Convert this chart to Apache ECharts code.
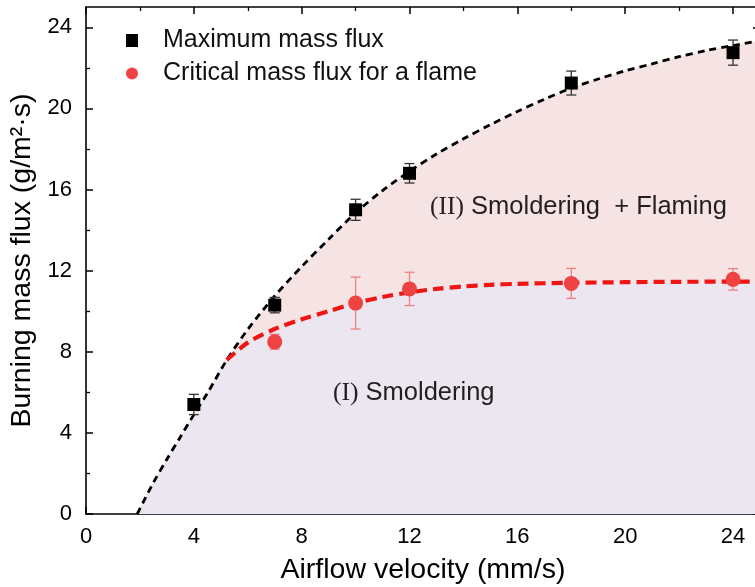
<!DOCTYPE html>
<html><head><meta charset="utf-8">
<script src="https://cdn.jsdelivr.net/npm/echarts@6/dist/echarts.min.js"></script>
<style>html,body{margin:0;padding:0;background:#fff}#c{width:755px;height:587px}</style>
</head><body><div id="c"></div>
<script>
// ---- data ----
const velocities   = [4, 7, 10, 12, 18, 24];
const maxFlux      = [5.4, 10.3, 15.0, 16.8, 21.25, 22.75];
const maxFluxErr   = [0.5, 0.38, 0.52, 0.48, 0.59, 0.62];
const critX        = [7, 10, 12, 18, 24];
const critFlux     = [8.49, 10.4, 11.1, 11.37, 11.57];
const critFluxErr  = [0.37, 1.28, 0.82, 0.74, 0.53];
// fitted curves
const maxFitX  = [1.9, 2.5, 3, 3.5, 4, 4.5, 5.22, 6, 7, 8, 9, 10, 11, 12, 13, 14, 15, 16, 17, 18, 19, 20, 21, 22, 23, 24, 25];
const maxFitY  = [0, 1.55, 2.7, 3.8, 4.9, 5.95, 7.59, 9.1, 10.75, 12.2, 13.55, 14.85, 15.95, 16.9, 17.75, 18.5, 19.2, 19.85, 20.45, 21.0, 21.45, 21.85, 22.2, 22.55, 22.85, 23.1, 23.35];
const critFitX = [5.22, 6, 7, 8, 9, 10, 11, 12, 13, 14, 15, 16, 18, 20, 22, 25];
const critFitY = [7.59, 8.45, 9.12, 9.6, 10.0, 10.4, 10.7, 10.93, 11.1, 11.22, 11.3, 11.35, 11.4, 11.43, 11.45, 11.46];
const xTicks = [0, 4, 8, 12, 16, 20, 24];
const xMinorTicks = [2, 6, 10, 14, 18, 22];
const yTicks = [0, 4, 8, 12, 16, 20, 24];
const yMinorTicks = [2, 6, 10, 14, 18, 22];
const xTitle = 'Airflow velocity (mm/s)';
const yTitle = 'Burning mass flux (g/m\u00B2\u00B7s)';
const legendNames = ['Maximum mass flux', 'Critical mass flux for a flame'];

// ---- build ----
const FONT = 'Arial, "Liberation Sans", sans-serif';
const SERIF = '"Times New Roman", "Liberation Serif", serif';
const zip = (a, b) => a.map((v, i) => [v, b[i]]);
const maxFit = zip(maxFitX, maxFitY);
const critFit = zip(critFitX, critFitY);
const lowerBoundary = maxFit.filter(p => p[0] < critFitX[0]).concat(critFit);

function majorAxis(pos, showLabel, labelVals, tickVals, margin) {
  return {
    type: 'value', position: pos, min: 0, max: 25,
    axisLine: { show: true, onZero: false, lineStyle: { color: '#000', width: 1.6 } },
    axisTick: { show: true, inside: true, length: 7, customValues: tickVals, lineStyle: { color: '#000', width: 1.5 } },
    axisLabel: { show: showLabel, customValues: labelVals, color: '#000', fontSize: 22, fontFamily: FONT, margin: margin },
    splitLine: { show: false }
  };
}
function minorAxis(pos, tickVals) {
  return {
    type: 'value', position: pos, min: 0, max: 25,
    axisLine: { show: false, onZero: false },
    axisTick: { show: true, inside: true, length: 4, customValues: tickVals, lineStyle: { color: '#000', width: 1.3 } },
    axisLabel: { show: false },
    splitLine: { show: false }
  };
}

const xAxes = [
  Object.assign(majorAxis('bottom', true, xTicks, xTicks, 12), {
    name: xTitle, nameLocation: 'middle', nameGap: 42,
    nameTextStyle: { fontSize: 28.5, fontFamily: FONT, color: '#000' }
  }),
  majorAxis('top', false, xTicks, xTicks, 12),
  minorAxis('bottom', xMinorTicks),
  minorAxis('top', xMinorTicks)
];
const yAxes = [
  Object.assign(majorAxis('left', true, yTicks, yTicks, 14), {
    name: yTitle, nameLocation: 'middle', nameGap: 37,
    nameTextStyle: { fontSize: 28.5, fontFamily: FONT, color: '#000' }
  }),
  majorAxis('right', false, yTicks, yTicks, 14),
  minorAxis('left', yMinorTicks),
  minorAxis('right', yMinorTicks)
];

function errorBarSeries(xs, ys, es, color) {
  return {
    type: 'custom', z: 4, silent: true,
    data: xs.map((x, i) => [x, ys[i] - es[i], ys[i] + es[i]]),
    renderItem: function (params, api) {
      const lo = api.coord([api.value(0), api.value(1)]);
      const hi = api.coord([api.value(0), api.value(2)]);
      const hw = 5;
      const st = { stroke: color, lineWidth: 1.3 };
      return {
        type: 'group', children: [
          { type: 'line', shape: { x1: lo[0], y1: lo[1], x2: hi[0], y2: hi[1] }, style: st },
          { type: 'line', shape: { x1: lo[0] - hw, y1: lo[1], x2: lo[0] + hw, y2: lo[1] }, style: st },
          { type: 'line', shape: { x1: hi[0] - hw, y1: hi[1], x2: hi[0] + hw, y2: hi[1] }, style: st }
        ]
      };
    }
  };
}

const option = {
  backgroundColor: '#fff',
  animation: false,
  grid: { left: 86, right: -5, top: 7, bottom: 73, containLabel: false, outerBoundsMode: 'none' },
  xAxis: xAxes,
  yAxis: yAxes,
  legend: {
    orient: 'vertical', left: 121, top: 23, itemWidth: 12, itemHeight: 13, itemGap: 8,
    formatter: name => '{p|}' + name,
    textStyle: { fontSize: 25, fontFamily: FONT, color: '#111', rich: { p: { width: 20 } } },
    data: [{ name: legendNames[0], icon: 'rect' }, { name: legendNames[1], icon: 'circle' }]
  },
  series: [
    { type: 'line', data: maxFit, symbol: 'none', smooth: 0.3, silent: true, z: 1,
      lineStyle: { width: 0 }, areaStyle: { color: '#f6e4e4', opacity: 1 } },
    { type: 'line', data: lowerBoundary, symbol: 'none', smooth: 0.3, silent: true, z: 2,
      lineStyle: { width: 0 }, areaStyle: { color: '#ece6f0', opacity: 1 } },
    { type: 'line', data: maxFit, symbol: 'none', smooth: 0.3, silent: true, z: 3,
      lineStyle: { color: '#000', width: 2.8, type: [7, 5] } },
    { type: 'line', data: critFit, symbol: 'none', smooth: 0.3, silent: true, z: 3,
      lineStyle: { color: '#f01515', width: 4.2, type: [11, 6] } },
    errorBarSeries(velocities, maxFlux, maxFluxErr, '#333'),
    errorBarSeries(critX, critFlux, critFluxErr, '#f08080'),
    { name: legendNames[0], type: 'scatter', data: zip(velocities, maxFlux), symbol: 'rect', symbolSize: 13, z: 5,
      itemStyle: { color: '#000', opacity: 1 } },
    { name: legendNames[1], type: 'scatter', data: zip(critX, critFlux), symbol: 'circle', symbolSize: 15, z: 5,
      itemStyle: { color: '#ef4242', opacity: 1 } }
  ],
  graphic: [
    { type: 'text', left: 430, top: 194, z: 10, silent: true,
      style: { text: '{s|(II)}{a| Smoldering  + Flaming}', rich: {
        s: { fontFamily: SERIF, fontSize: 25.5, fill: '#231f20' },
        a: { fontFamily: FONT, fontSize: 25.5, fill: '#231f20' } } } },
    { type: 'text', left: 333, top: 380, z: 10, silent: true,
      style: { text: '{s|(I)}{a| Smoldering}', rich: {
        s: { fontFamily: SERIF, fontSize: 25.5, fill: '#231f20' },
        a: { fontFamily: FONT, fontSize: 25.5, fill: '#231f20' } } } }
  ]
};
const chart = echarts.init(document.getElementById('c'), null, { renderer: 'canvas' });
chart.setOption(option);
</script>
</body></html>
